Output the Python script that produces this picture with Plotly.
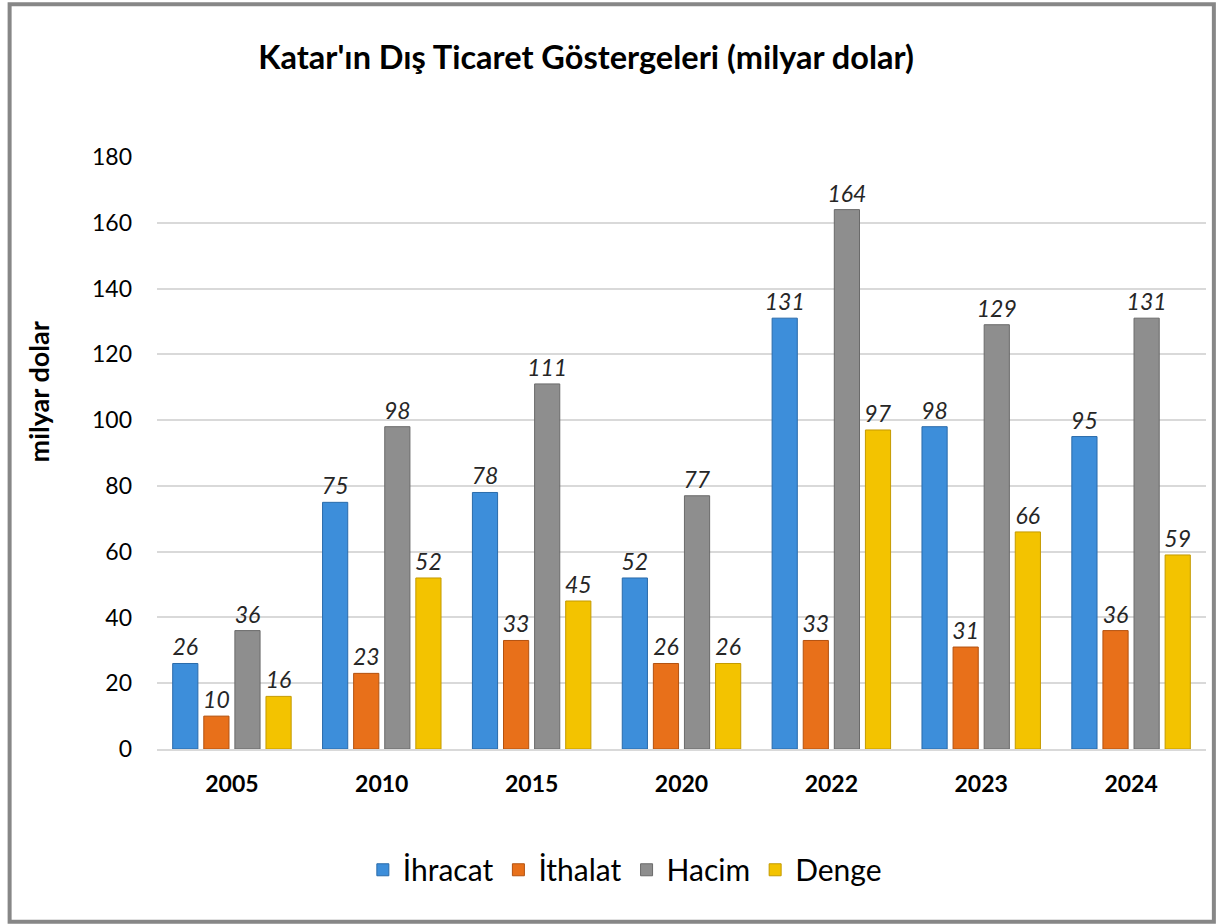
import plotly.graph_objects as go

years = ["2005", "2010", "2015", "2020", "2022", "2023", "2024"]
ihracat = [26, 75, 78, 52, 131, 98, 95]
ithalat = [10, 23, 33, 26, 33, 31, 36]
hacim = [36, 98, 111, 77, 164, 129, 131]
denge = [16, 52, 45, 26, 97, 66, 59]

series = [
    ("İhracat", ihracat, "#3D8EDA", "#2A6BAA"),
    ("İthalat", ithalat, "#E8701A", "#B35210"),
    ("Hacim", hacim, "#8E8E8E", "#6A6A6A"),
    ("Denge", denge, "#F3C300", "#C49A00"),
]

font_family = "Lato, 'Open Sans', sans-serif"

fig = go.Figure()
for name, vals, col, edge in series:
    fig.add_trace(go.Bar(
        name=name, x=years, y=vals,
        marker=dict(color=col, line=dict(color=edge, width=1)),
        text=[str(v) for v in vals], textposition="outside", constraintext="none",
        textfont=dict(family=font_family, size=23, color="#262626", style="italic"),
        cliponaxis=False,
    ))

fig.update_layout(
    width=1216, height=924,
    paper_bgcolor="white", plot_bgcolor="white",
    margin=dict(l=157, r=10, t=157, b=175),
    barmode="group", bargap=0.17, bargroupgap=0.19,
    font=dict(family=font_family, color="#000000"),
    title=dict(text="<b>Katar'ın Dış Ticaret Göstergeleri (milyar dolar)</b>",
               x=0.482, xanchor="center", y=0.938, yanchor="middle",
               font=dict(size=32.5, family=font_family, color="#000000")),
    legend=dict(orientation="h", x=0.446, xanchor="center", y=-0.204, yanchor="middle",
                font=dict(size=30, family=font_family, color="#000000"),
                itemwidth=30, traceorder="normal"),
    showlegend=True,
    yaxis=dict(range=[0, 180], dtick=20, showgrid=True, gridcolor="#D9D9D9", gridwidth=1.5,
               zeroline=False, showline=False,
               tickfont=dict(size=23, family=font_family, color="#000000"),
               ticklabelstandoff=24),
    xaxis=dict(showline=True, linecolor="#D9D9D9", linewidth=1.5,
               tickfont=dict(size=23, family=font_family, color="#000000"),
               ticklabelstandoff=14, tickprefix="<b>", ticksuffix="</b>"),
    annotations=[dict(text="<b>milyar dolar</b>", textangle=-90, xref="paper", yref="paper",
                      x=-0.113, y=0.603, xanchor="center", yanchor="middle", showarrow=False,
                      font=dict(size=27, family=font_family, color="#000000"))],
    shapes=[dict(type="rect", xref="paper", yref="paper",
                 x0=-0.1405, x1=1.0075, y0=-0.292, y1=1.258,
                 line=dict(color="#878787", width=4), fillcolor="rgba(0,0,0,0)", layer="below")],
)

fig.write_html("out.html", config={"displayModeBar": False},
               post_script="document.body.style.margin='0';")
